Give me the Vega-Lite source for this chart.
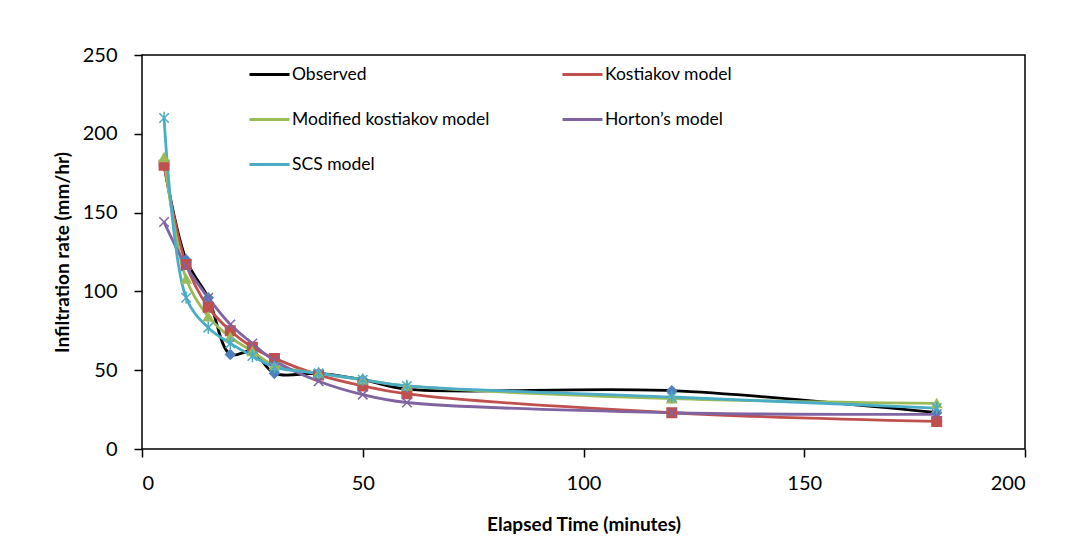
{
  "$schema": "https://vega.github.io/schema/vega-lite/v6.json",
  "autosize": {"type": "none"},
  "width": 883,
  "height": 394,
  "padding": {"left": 142, "top": 55, "right": 52, "bottom": 105},
  "background": "white",
  "config": {
    "view": {"stroke": "black", "strokeWidth": 1.5},
    "font": "Lato",
    "axis": {
      "grid": false,
      "domain": false,
      "tickColor": "black",
      "tickSize": 8,
      "tickWidth": 1.5,
      "labelColor": "black",
      "labelFont": "Lato",
      "labelFontSize": 20,
      "titleColor": "black",
      "titleFont": "Lato",
      "titleFontSize": 19,
      "titleFontWeight": "bold"
    }
  },
  "data": {
    "values": [
      {"t": 5, "series": "Observed", "rate": 180},
      {"t": 10, "series": "Observed", "rate": 120},
      {"t": 15, "series": "Observed", "rate": 96},
      {"t": 20, "series": "Observed", "rate": 60},
      {"t": 25, "series": "Observed", "rate": 62},
      {"t": 30, "series": "Observed", "rate": 48},
      {"t": 40, "series": "Observed", "rate": 48},
      {"t": 50, "series": "Observed", "rate": 44},
      {"t": 60, "series": "Observed", "rate": 38},
      {"t": 120, "series": "Observed", "rate": 37},
      {"t": 180, "series": "Observed", "rate": 23},
      {"t": 5, "series": "Kostiakov model", "rate": 180},
      {"t": 10, "series": "Kostiakov model", "rate": 117},
      {"t": 15, "series": "Kostiakov model", "rate": 90},
      {"t": 20, "series": "Kostiakov model", "rate": 75},
      {"t": 25, "series": "Kostiakov model", "rate": 64.5},
      {"t": 30, "series": "Kostiakov model", "rate": 57.5},
      {"t": 40, "series": "Kostiakov model", "rate": 47},
      {"t": 50, "series": "Kostiakov model", "rate": 40},
      {"t": 60, "series": "Kostiakov model", "rate": 35},
      {"t": 120, "series": "Kostiakov model", "rate": 23},
      {"t": 180, "series": "Kostiakov model", "rate": 17.5},
      {"t": 5, "series": "Modified kostiakov model", "rate": 185},
      {"t": 10, "series": "Modified kostiakov model", "rate": 108},
      {"t": 15, "series": "Modified kostiakov model", "rate": 84},
      {"t": 20, "series": "Modified kostiakov model", "rate": 71},
      {"t": 25, "series": "Modified kostiakov model", "rate": 62},
      {"t": 30, "series": "Modified kostiakov model", "rate": 53},
      {"t": 40, "series": "Modified kostiakov model", "rate": 48},
      {"t": 50, "series": "Modified kostiakov model", "rate": 44},
      {"t": 60, "series": "Modified kostiakov model", "rate": 40},
      {"t": 120, "series": "Modified kostiakov model", "rate": 32},
      {"t": 180, "series": "Modified kostiakov model", "rate": 29},
      {"t": 5, "series": "Horton’s model", "rate": 144},
      {"t": 10, "series": "Horton’s model", "rate": 116},
      {"t": 15, "series": "Horton’s model", "rate": 96},
      {"t": 20, "series": "Horton’s model", "rate": 79},
      {"t": 25, "series": "Horton’s model", "rate": 67},
      {"t": 30, "series": "Horton’s model", "rate": 56},
      {"t": 40, "series": "Horton’s model", "rate": 43},
      {"t": 50, "series": "Horton’s model", "rate": 34.5},
      {"t": 60, "series": "Horton’s model", "rate": 29.5},
      {"t": 120, "series": "Horton’s model", "rate": 23},
      {"t": 180, "series": "Horton’s model", "rate": 22},
      {"t": 5, "series": "SCS model", "rate": 210},
      {"t": 10, "series": "SCS model", "rate": 96},
      {"t": 15, "series": "SCS model", "rate": 77},
      {"t": 20, "series": "SCS model", "rate": 67},
      {"t": 25, "series": "SCS model", "rate": 59},
      {"t": 30, "series": "SCS model", "rate": 52},
      {"t": 40, "series": "SCS model", "rate": 48},
      {"t": 50, "series": "SCS model", "rate": 44},
      {"t": 60, "series": "SCS model", "rate": 40},
      {"t": 120, "series": "SCS model", "rate": 33},
      {"t": 180, "series": "SCS model", "rate": 26}
    ]
  },
  "encoding": {
    "x": {
      "field": "t",
      "type": "quantitative",
      "scale": {"domain": [0, 200], "nice": false},
      "axis": {"values": [0, 50, 100, 150, 200], "title": "Elapsed Time (minutes)", "labelPadding": 16, "titlePadding": 22}
    },
    "y": {
      "field": "rate",
      "type": "quantitative",
      "scale": {"domain": [0, 250], "nice": false},
      "axis": {"values": [0, 50, 100, 150, 200, 250], "title": "Infiltration rate (mm/hr)", "labelPadding": 17, "titlePadding": 10}
    }
  },
  "layer": [
    {
      "mark": {"type": "line", "interpolate": "catmull-rom", "strokeWidth": 2.8},
      "encoding": {
        "color": {
          "field": "series",
          "type": "nominal",
          "scale": {
            "domain": ["Observed", "Kostiakov model", "Modified kostiakov model", "Horton’s model", "SCS model"],
            "range": ["#000000", "#C0504D", "#9BBB59", "#8064A2", "#4BACC6"]
          },
          "legend": {
            "title": null,
            "orient": "none",
            "direction": "horizontal",
            "legendX": 106,
            "legendY": -2,
            "columns": 2,
            "columnPadding": 66,
            "rowPadding": 15,
            "padding": 0,
            "symbolType": "stroke",
            "symbolSize": 1600,
            "symbolStrokeWidth": 2.8,
            "labelFont": "Lato",
            "labelFontSize": 17.5,
            "labelColor": "black",
            "labelOffset": 1,
            "labelLimit": 400
          }
        }
      }
    },
    {
      "mark": {"type": "point", "filled": true, "opacity": 1, "size": 90, "strokeWidth": 1.5},
      "encoding": {
        "fill": {
          "field": "series",
          "type": "nominal",
          "scale": {
            "domain": ["Horton’s model", "Kostiakov model", "Modified kostiakov model", "Observed", "SCS model"],
            "range": ["#8064A2", "#C0504D", "#9BBB59", "#4F81BD", "#4BACC6"]
          },
          "legend": null
        },
        "stroke": {
          "field": "series",
          "type": "nominal",
          "scale": {
            "domain": ["Horton’s model", "Kostiakov model", "Modified kostiakov model", "Observed", "SCS model"],
            "range": ["#8064A2", "#C0504D", "#9BBB59", "#4F81BD", "#4BACC6"]
          },
          "legend": null
        },
        "shape": {
          "field": "series",
          "type": "nominal",
          "scale": {
            "domain": ["Horton’s model", "Kostiakov model", "Modified kostiakov model", "Observed", "SCS model"],
            "range": ["M-1,-1L1,1M-1,1L1,-1", "square", "triangle-up", "diamond", "M-1,-1L1,1M-1,1L1,-1M0,-1.3L0,1.3"]
          },
          "legend": null
        }
      }
    }
  ]
}
